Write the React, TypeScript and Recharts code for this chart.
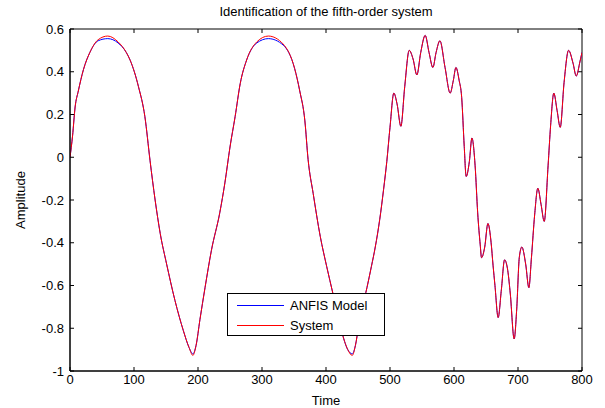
import React from 'react';
import { LineChart, Line, XAxis, YAxis, Legend, ReferenceArea, ReferenceLine } from 'recharts';

// samples (time, output)
const time = [
  0, 4, 8, 13, 21, 31, 44, 59, 75, 88,
  94, 107, 117, 125, 133, 141, 151, 164, 177, 186,
  192, 197, 203, 211, 221, 234, 242, 250, 258, 266,
  276, 292, 310, 333, 351, 359, 367, 372, 380, 391,
  401, 411, 424, 434, 441, 446, 451, 457, 464, 471,
  477, 484, 490, 495, 500, 506, 511, 517, 523, 530,
  536, 542, 548, 555, 561, 567, 572, 578, 586, 594,
  599, 603, 608, 612, 616, 619, 624, 628, 633, 637,
  641, 643, 648, 653, 658, 661, 664, 669, 674, 679,
  684, 688, 694, 698, 702, 706, 712, 717, 721, 726,
  731, 736, 741, 747, 751, 756, 761, 766, 772, 779,
  786, 791, 797, 800,
];

const systemOut = [
  0, 0.1, 0.235, 0.31, 0.41, 0.49, 0.55, 0.567, 0.54, 0.49,
  0.454, 0.33, 0.19, -0.014, -0.2, -0.357, -0.5, -0.67, -0.81, -0.89,
  -0.927, -0.88, -0.76, -0.61, -0.435, -0.26, -0.12, 0.048, 0.19, 0.345,
  0.455, 0.54, 0.567, 0.53, 0.415, 0.31, 0.17, -0.01, -0.17, -0.37,
  -0.51, -0.64, -0.81, -0.9, -0.927, -0.88, -0.79, -0.7, -0.61, -0.51,
  -0.42, -0.29, -0.15, -0.02, 0.14, 0.3, 0.25, 0.145, 0.33, 0.5,
  0.46, 0.385, 0.49, 0.57, 0.49, 0.42, 0.49, 0.545, 0.42, 0.3,
  0.36, 0.42, 0.36, 0.28, 0.05, -0.09, -0.02, 0.09, -0.04, -0.26,
  -0.41, -0.47, -0.42, -0.31, -0.4, -0.505, -0.6, -0.75, -0.62, -0.48,
  -0.53, -0.64, -0.85, -0.71, -0.47, -0.42, -0.5, -0.61, -0.47, -0.27,
  -0.145, -0.22, -0.3, -0.04, 0.15, 0.3, 0.22, 0.14, 0.35, 0.5,
  0.44, 0.38, 0.45, 0.49,
];

const anfisOut = [
  0, 0.1, 0.235, 0.31, 0.41, 0.49, 0.545, 0.555, 0.535, 0.49,
  0.454, 0.33, 0.19, -0.014, -0.2, -0.357, -0.5, -0.67, -0.81, -0.89,
  -0.92, -0.88, -0.76, -0.61, -0.435, -0.26, -0.12, 0.048, 0.19, 0.345,
  0.455, 0.535, 0.555, 0.525, 0.415, 0.31, 0.17, -0.01, -0.17, -0.37,
  -0.51, -0.64, -0.81, -0.9, -0.92, -0.88, -0.79, -0.7, -0.61, -0.51,
  -0.42, -0.29, -0.15, -0.02, 0.14, 0.3, 0.25, 0.145, 0.33, 0.5,
  0.46, 0.385, 0.49, 0.57, 0.49, 0.42, 0.49, 0.545, 0.42, 0.3,
  0.36, 0.42, 0.36, 0.28, 0.05, -0.09, -0.02, 0.09, -0.04, -0.26,
  -0.41, -0.47, -0.42, -0.31, -0.4, -0.505, -0.6, -0.75, -0.62, -0.48,
  -0.53, -0.64, -0.85, -0.71, -0.47, -0.42, -0.5, -0.61, -0.47, -0.27,
  -0.145, -0.22, -0.3, -0.04, 0.15, 0.3, 0.22, 0.14, 0.35, 0.5,
  0.44, 0.38, 0.45, 0.49,
];

const xTicks = [0, 100, 200, 300, 400, 500, 600, 700, 800];
const yTicks = [-1, -0.8, -0.6, -0.4, -0.2, 0, 0.2, 0.4, 0.6];

const seriesNames = ['ANFIS Model', 'System'];
const seriesColors = ['#0000ff', '#ff0000'];

const data = time.map((t, i) => ({ t, anfis: anfisOut[i], system: systemOut[i] }));

const xMin = 0, xMax = 800, yMin = -1, yMax = 0.6;
// inward tick length for the top / right box edges (about 4px)
const tickDx = 6.25;
const tickDy = 0.0187;

const font = "'Liberation Sans', Arial, sans-serif";
const tickStyle = { fill: '#000', fontSize: 13, fontFamily: font };

const renderLegend = () => (
  <div
    style={{
      width: 156,
      height: 41,
      border: '1px solid #000',
      background: '#fff',
      fontFamily: font,
      fontSize: 13,
      color: '#000',
    }}
  >
    {seriesNames.map((n, i) => (
      <div key={n} style={{ display: 'flex', alignItems: 'center', height: 20, marginTop: i === 0 ? 1 : 0 }}>
        <div style={{ width: 47, height: 1, backgroundColor: seriesColors[i], marginLeft: 9, marginRight: 6 }} />
        <span>{n}</span>
      </div>
    ))}
  </div>
);

export default function App() {
  return (
    <div style={{ position: 'absolute', left: 0, top: 0, width: 605, height: 408, background: '#fff' }}>
      <div
        style={{
          position: 'absolute',
          left: 70,
          width: 512,
          top: 4,
          textAlign: 'center',
          fontFamily: font,
          fontSize: 13,
          color: '#000',
        }}
      >
        Identification of the fifth-order system
      </div>
      <LineChart width={605} height={408} data={data} margin={{ top: 29, right: 23, bottom: 0, left: 0 }}>
        <XAxis
          dataKey="t"
          type="number"
          domain={[xMin, xMax]}
          ticks={xTicks}
          allowDataOverflow
          height={37}
          stroke="#000"
          tick={tickStyle}
          tickSize={-4}
          tickMargin={8}
          label={{ value: 'Time', position: 'insideBottom', offset: 3, style: { fill: '#000', fontSize: 13, fontFamily: font } }}
        />
        <YAxis
          type="number"
          domain={[yMin, yMax]}
          ticks={yTicks}
          allowDataOverflow
          width={70}
          stroke="#000"
          tick={tickStyle}
          tickSize={-4}
          tickMargin={10}
          tickFormatter={(v: number) => String(v)}
          label={{
            value: 'Amplitude',
            angle: -90,
            position: 'insideLeft',
            offset: 20,
            style: { textAnchor: 'middle', fill: '#000', fontSize: 13, fontFamily: font },
          }}
        />
        <ReferenceArea x1={xMin} x2={xMax} y1={yMin} y2={yMax} fill="none" stroke="#000" strokeWidth={1} />
        {xTicks.map((t) => (
          <ReferenceLine
            key={'tx' + t}
            segment={[{ x: t, y: yMax }, { x: t, y: yMax - tickDy }]}
            stroke="#000"
          />
        ))}
        {yTicks.map((v) => (
          <ReferenceLine
            key={'ty' + v}
            segment={[{ x: xMax, y: v }, { x: xMax - tickDx, y: v }]}
            stroke="#000"
          />
        ))}
        <Legend
          layout="vertical"
          align="center"
          verticalAlign="middle"
          content={renderLegend}
          wrapperStyle={{ position: 'absolute', left: 227, top: 293, width: 158 }}
        />
        <Line
          type="monotone"
          dataKey="anfis"
          name={seriesNames[0]}
          stroke={seriesColors[0]}
          strokeWidth={1}
          dot={false}
          isAnimationActive={false}
        />
        <Line
          type="monotone"
          dataKey="system"
          name={seriesNames[1]}
          stroke={seriesColors[1]}
          strokeWidth={1}
          dot={false}
          isAnimationActive={false}
        />
      </LineChart>
    </div>
  );
}
